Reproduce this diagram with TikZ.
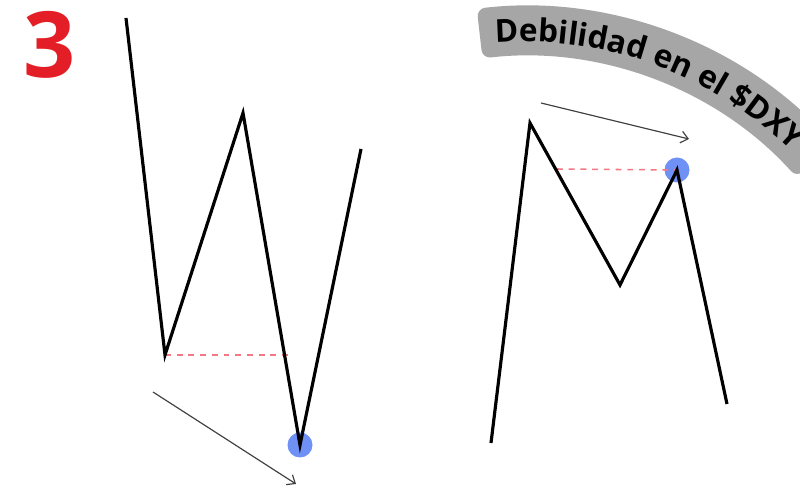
\documentclass[tikz,border=0pt]{standalone}
\usepackage{fontspec}
\setmainfont{Open Sans}
\usepackage{tikz}
\usetikzlibrary{arrows.meta, decorations.text}
\definecolor{numred}{RGB}{228,30,38}
\definecolor{dotblue}{RGB}{96,134,246}
\definecolor{bandgray}{RGB}{166,166,166}
\definecolor{levelred}{RGB}{244,120,130}

\begin{document}
\begin{tikzpicture}[
        x=0.03cm, y=-0.03cm,
        wave/.style={line width=2.7pt, black},
        level/.style={levelred, dash pattern=on 5pt off 5pt, line width=1.3pt},
        dot/.style={circle, fill=dotblue, fill opacity=0.9, minimum size=0.75cm, inner sep=0pt},
        trend/.style={-{Straight Barb[length=6pt, width=10pt]}, line width=1pt, black!75},
        band/.style={fill=bandgray, rounded corners=0.25cm}
    ]
        \path[use as bounding box, fill=white] (0,0) rectangle (800,486);

        \node[font=\fontsize{78}{78}\selectfont\bfseries, text=numred] (num) at (50,45) {3};

        \coordinate (bend) at (524,423);
        \fill[band] (bend) ++(96.5:12.51cm) arc[start angle=96.5, end angle=42, radius=12.51cm]
            -- ++(222:1.5cm) arc[start angle=42, end angle=96.5, radius=11.01cm] -- cycle;
        \path[decorate, decoration={text along path, text align=left,
            text={|\fontsize{27}{27}\selectfont\bfseries|Debilidad en el {\$}DXY}}]
            (bend) ++(94.3:11.44cm) arc[start angle=94.3, end angle=30, radius=11.44cm];

        \coordinate (w1) at (126,18);
        \coordinate (w2) at (165,355);
        \coordinate (w3) at (243,113);
        \coordinate (w4) at (300,445);
        \coordinate (w5) at (361,149);
        \coordinate (wlev) at (289,355);
        \coordinate (wa1) at (153,392);
        \coordinate (wa2) at (296,484);

        \coordinate (m1) at (491,443);
        \coordinate (m2) at (530,123);
        \coordinate (m3) at (620,285);
        \coordinate (m4) at (677,170);
        \coordinate (m5) at (727,404);
        \coordinate (mlev) at (557,169);
        \coordinate (ma1) at (541,103);
        \coordinate (ma2) at (689,139);

        \node[dot] (wlow) at (w4) {};
        \node[dot] (mhigh) at (m4) {};

        \draw[level] (w2) -- (wlev);
        \draw[level] (mlev) -- (m4);
        \draw[wave] (w1) -- (w2) -- (w3) -- (w4) -- (w5);
        \draw[wave] (m1) -- (m2) -- (m3) -- (m4) -- (m5);
        \draw[trend] (wa1) -- (wa2);
        \draw[trend] (ma1) -- (ma2);
    \end{tikzpicture}
\end{document}
